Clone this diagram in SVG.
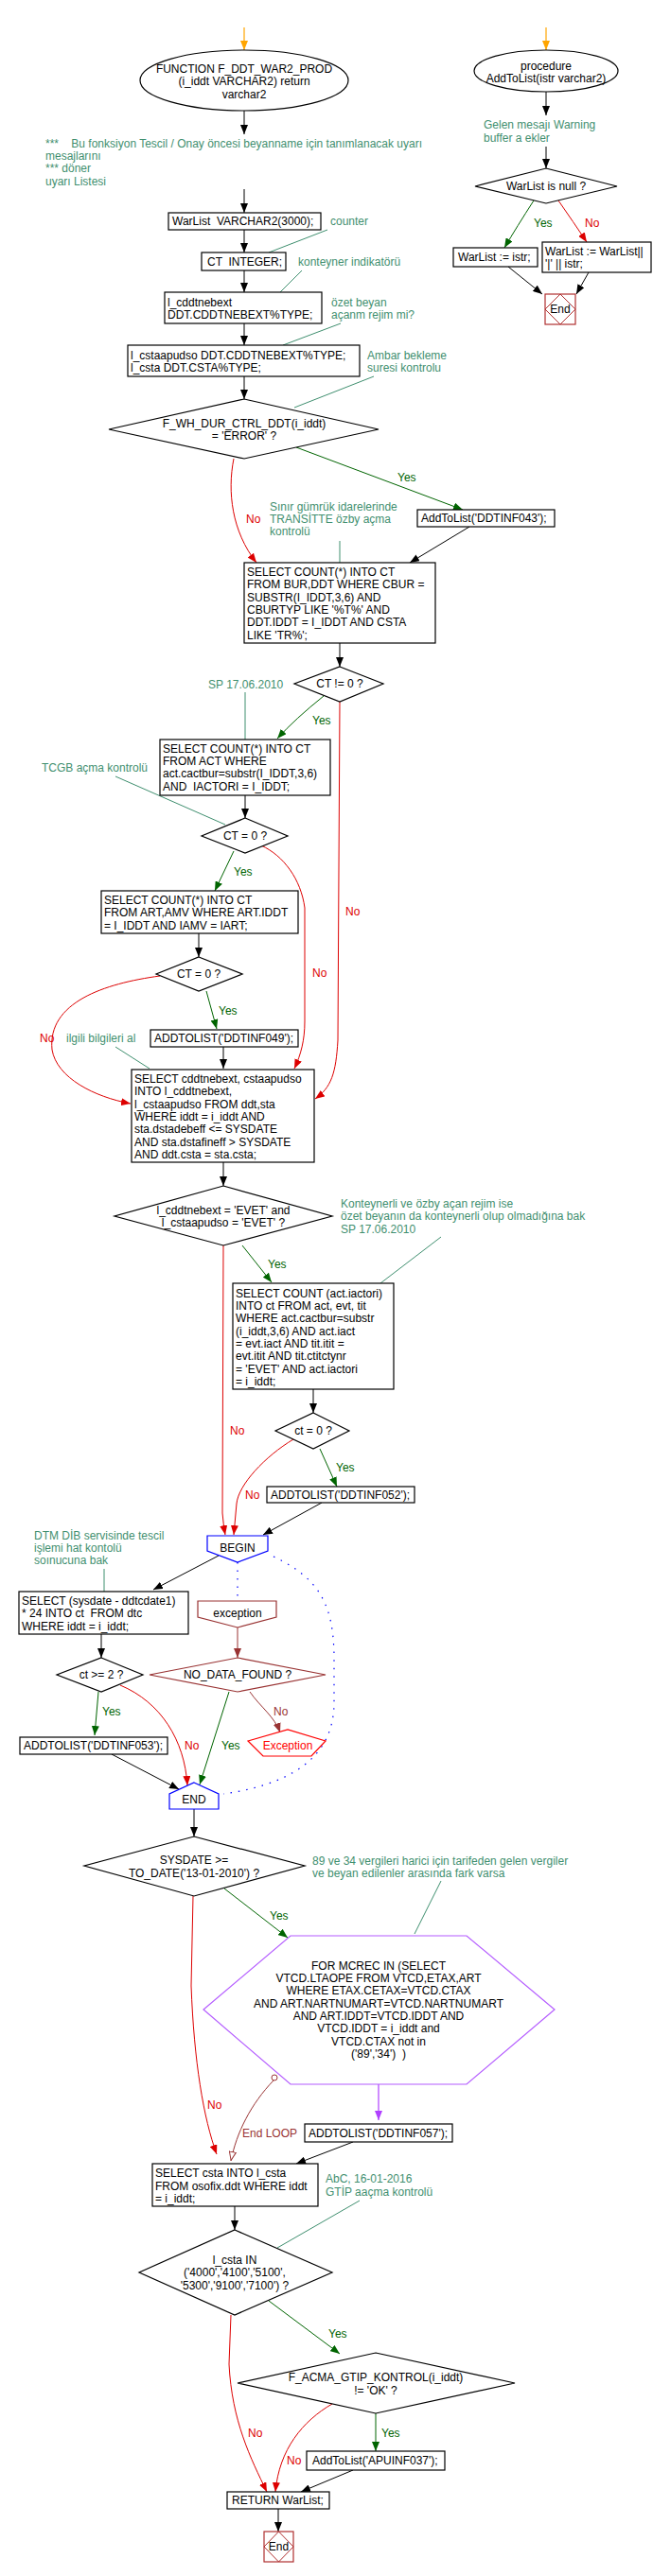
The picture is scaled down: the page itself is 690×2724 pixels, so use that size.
<svg xmlns="http://www.w3.org/2000/svg" width="690" height="2724" viewBox="0 0 690 2724">
<style>
text{font-family:"Liberation Sans",Arial,sans-serif;font-size:12px;fill:#000}
.m{text-anchor:middle}
.c{fill:#3f8f6f}
.y{fill:#006400}
.r{fill:#dd0000}
.dr{fill:#993333}
.box{fill:#fff;stroke:#000;stroke-width:1.2}
.cl{fill:none;stroke:#3f8f6f;stroke-width:1}
.k{fill:none;stroke:#000;stroke-width:1;marker-end:url(#ak)}
.g{fill:none;stroke:#006400;stroke-width:1;marker-end:url(#ag)}
.rd{fill:none;stroke:#dd0000;stroke-width:1;marker-end:url(#ar)}
.drl{fill:none;stroke:#993333;stroke-width:1;marker-end:url(#ad)}
.end{fill:#fff;stroke:#b03030;stroke-width:1.2}
</style>
<defs>
<marker id="ak" markerWidth="10" markerHeight="8" refX="10" refY="4" orient="auto" markerUnits="userSpaceOnUse"><path d="M0,0 L10,4 L0,8 z" fill="#000"/></marker>
<marker id="ag" markerWidth="10" markerHeight="8" refX="10" refY="4" orient="auto" markerUnits="userSpaceOnUse"><path d="M0,0 L10,4 L0,8 z" fill="#006400"/></marker>
<marker id="ar" markerWidth="10" markerHeight="8" refX="10" refY="4" orient="auto" markerUnits="userSpaceOnUse"><path d="M0,0 L10,4 L0,8 z" fill="#dd0000"/></marker>
<marker id="ad" markerWidth="10" markerHeight="8" refX="10" refY="4" orient="auto" markerUnits="userSpaceOnUse"><path d="M0,0 L10,4 L0,8 z" fill="#993333"/></marker>
<marker id="ao" markerWidth="10" markerHeight="8" refX="10" refY="4" orient="auto" markerUnits="userSpaceOnUse"><path d="M0,0 L10,4 L0,8 z" fill="#ffa500"/></marker>
<marker id="ap" markerWidth="10" markerHeight="8" refX="10" refY="4" orient="auto" markerUnits="userSpaceOnUse"><path d="M0,0 L10,4 L0,8 z" fill="#b040ff"/></marker>
<marker id="ah" markerWidth="10" markerHeight="8" refX="10" refY="4" orient="auto" markerUnits="userSpaceOnUse"><path d="M0.5,0.5 L9.5,4 L0.5,7.5 z" fill="#fff" stroke="#993333" stroke-width="1"/></marker>
</defs>
<rect width="690" height="2724" fill="#fff"/>

<g id="connectors">
<!-- right procedure -->
<path d="M577,29 L577,53" fill="none" stroke="#ffa500" stroke-width="1.2" marker-end="url(#ao)"/>
<path class="k" d="M577,97 L577,122"/>
<path class="k" d="M577,155 L577,178"/>
<path class="g" d="M564,212 Q546,240 533,262"/>
<path class="rd" d="M590,212 Q606,235 620,256"/>
<path class="k" d="M537,282 L573,311"/>
<path class="k" d="M622,288 L609,311"/>
<!-- main -->
<path d="M258,29 L258,53" fill="none" stroke="#ffa500" stroke-width="1.2" marker-end="url(#ao)"/>
<path class="k" d="M258,117 L258,142"/>
<path class="k" d="M258,200 L258,225"/>
<path class="k" d="M258,243 L258,267"/>
<path class="k" d="M258,286 L258,309"/>
<path class="k" d="M258,342 L258,365"/>
<path class="k" d="M258,398 L258,422"/>
<path class="g" d="M313,473 L489,539"/>
<path class="rd" d="M247,485 C240,520 245,562 271,595"/>
<path class="k" d="M496,557 L433,595"/>
<path class="k" d="M359,680 L359,705"/>
<path class="g" d="M342,736 Q312,760 293,781"/>
<path class="rd" d="M359,742 L357,1100 C355,1135 350,1150 333,1162"/>
<path class="k" d="M259,841 L259,865"/>
<path class="g" d="M247,900 L227,942"/>
<path class="rd" d="M276,894 C300,905 318,930 322,960 L322,1080 C322,1100 318,1115 311,1130"/>
<path class="k" d="M210,987 L210,1012"/>
<path class="g" d="M218,1048 L229,1088"/>
<path class="rd" d="M169,1032 C110,1040 50,1060 55,1110 C60,1140 100,1160 138,1167"/>
<path class="k" d="M236,1107 L236,1130"/>
<path class="k" d="M236,1229 L236,1254"/>
<path class="g" d="M256,1317 L287,1356"/>
<path class="rd" d="M236,1317 L235,1600 Q236,1612 238,1623"/>
<path class="k" d="M331,1469 L331,1494"/>
<path class="g" d="M338,1532 L356,1572"/>
<path class="rd" d="M310,1522 C280,1540 252,1570 250,1590 L247,1623"/>
<path class="k" d="M340,1589 L278,1623"/>
<path class="k" d="M231,1645 L162,1681"/>
<path d="M251,1652 L251,1693" fill="none" stroke="#0000ff" stroke-width="1.2" stroke-dasharray="1.5 7"/>
<path d="M289,1646 C340,1670 352,1700 353,1750 L353,1800 C353,1850 320,1885 236,1897" fill="none" stroke="#0000ff" stroke-width="1.2" stroke-dasharray="1.5 7"/>
<path class="k" d="M107,1728 L107,1753"/>
<path class="drl" d="M251,1721 L251,1753"/>
<path class="g" d="M242,1789 L211,1887"/>
<path class="drl" d="M264,1789 C275,1805 290,1815 296,1832"/>
<path class="g" d="M104,1789 L100,1835"/>
<path class="rd" d="M127,1782 C170,1800 195,1840 198,1888"/>
<path class="k" d="M118,1855 L189,1892"/>
<path class="k" d="M205,1913 L205,1942"/>
<path class="g" d="M237,1997 L304,2049"/>
<path class="rd" d="M204,2005 L202,2100 C205,2180 215,2240 229,2278"/>
<path d="M400,2204 L400,2242" fill="none" stroke="#b040ff" stroke-width="1.2" marker-end="url(#ap)"/>
<circle cx="290" cy="2197" r="3" fill="#fff" stroke="#993333" stroke-width="1"/>
<path d="M289,2200 C265,2225 250,2255 244,2285" fill="none" stroke="#993333" stroke-width="1" marker-end="url(#ah)"/>
<path class="k" d="M373,2265 L313,2288"/>
<path class="k" d="M248,2333 L248,2358"/>
<path class="g" d="M284,2433 L359,2489"/>
<path class="rd" d="M244,2448 L242,2500 C245,2560 265,2600 282,2635"/>
<path class="g" d="M397,2552 L397,2592"/>
<path class="rd" d="M351,2542 C320,2560 295,2590 291,2635"/>
<path class="k" d="M373,2612 L318,2635"/>
<path class="k" d="M294,2653 L294,2677"/>
<!-- comment leader lines -->
<path class="cl" d="M346,243 L284,267"/>
<path class="cl" d="M319,286 L296,309"/>
<path class="cl" d="M360,342 L299,365"/>
<path class="cl" d="M395,398 L311,431"/>
<path class="cl" d="M359,572 L359,595"/>
<path class="cl" d="M259,732 L259,782"/>
<path class="cl" d="M122,821 L238,872"/>
<path class="cl" d="M122,1107 L158,1130"/>
<path class="cl" d="M466,1308 L402,1357"/>
<path class="cl" d="M110,1659 L110,1683"/>
<path class="cl" d="M466,1989 L438,2045"/>
<path class="cl" d="M380,2327 L293,2377"/>
<!-- branch labels -->
<text class="y" x="564" y="240">Yes</text>
<text class="r" x="618" y="240">No</text>
<text class="y" x="420" y="509">Yes</text>
<text class="r" x="260" y="553">No</text>
<text class="y" x="330" y="766">Yes</text>
<text class="r" x="365" y="968">No</text>
<text class="y" x="247" y="926">Yes</text>
<text class="r" x="330" y="1033">No</text>
<text class="y" x="231" y="1073">Yes</text>
<text class="r" x="42" y="1102">No</text>
<text class="y" x="283" y="1341">Yes</text>
<text class="r" x="243" y="1517">No</text>
<text class="y" x="355" y="1556">Yes</text>
<text class="r" x="259" y="1585">No</text>
<text class="y" x="234" y="1850">Yes</text>
<text class="dr" x="289" y="1814">No</text>
<text class="y" x="108" y="1814">Yes</text>
<text class="r" x="195" y="1850">No</text>
<text class="y" x="285" y="2030">Yes</text>
<text class="r" x="219" y="2230">No</text>
<text class="dr" x="256" y="2260">End LOOP</text>
<text class="y" x="347" y="2472">Yes</text>
<text class="r" x="262" y="2577">No</text>
<text class="y" x="403" y="2577">Yes</text>
<text class="r" x="303" y="2606">No</text>
</g>

<!-- right procedure nodes -->
<g id="proc_start"><ellipse cx="577" cy="75" rx="76" ry="22" class="box"/><text class="m" x="577" y="74">procedure</text><text class="m" x="577" y="87">AddToList(istr varchar2)</text></g>
<g id="proc_note"><text class="c" x="511" y="136">Gelen mesajı Warning</text><text class="c" x="511" y="150">buffer a ekler</text></g>
<g id="proc_dec"><polygon points="577,178 652,197 577,215 502,197" class="box"/><text class="m" x="577" y="201">WarList is null ?</text></g>
<g id="proc_yes"><rect x="479" y="262" width="89" height="20" class="box"/><text x="484" y="276">WarList := istr;</text></g>
<g id="proc_no"><rect x="573" y="256" width="115" height="32" class="box"/><text x="576" y="270">WarList := WarList||</text><text x="576" y="283">'|' || istr;</text></g>
<g id="proc_end"><rect x="576" y="311" width="32" height="32" class="end"/><polygon points="592,311 608,327 592,343 576,327" fill="none" stroke="#b03030" stroke-width="1"/><text class="m" x="592" y="331">End</text></g>

<!-- main nodes -->
<g id="f_start"><ellipse cx="258" cy="85" rx="110" ry="32" class="box"/><text class="m" x="258" y="77">FUNCTION  F_DDT_WAR2_PROD</text><text class="m" x="258" y="90">(i_iddt  VARCHAR2) return</text><text class="m" x="258" y="104">varchar2</text></g>
<g id="f_note"><text class="c" x="48" y="156" xml:space="preserve">***    Bu fonksiyon Tescil / Onay öncesi beyanname için tanımlanacak uyarı</text><text class="c" x="48" y="169">mesajlarını</text><text class="c" x="48" y="182">*** döner</text><text class="c" x="48" y="196">uyarı Listesi</text></g>
<g id="n_warlist"><rect x="178" y="225" width="161" height="18" class="box"/><text x="182" y="238" xml:space="preserve">WarList  VARCHAR2(3000);</text><text class="c" x="349" y="238">counter</text></g>
<g id="n_ct"><rect x="213" y="267" width="89" height="19" class="box"/><text x="219" y="281" xml:space="preserve">CT  INTEGER;</text><text class="c" x="315" y="281">konteyner indikatörü</text></g>
<g id="n_cdd"><rect x="174" y="309" width="166" height="33" class="box"/><text x="177" y="324">l_cddtnebext</text><text x="177" y="337">DDT.CDDTNEBEXT%TYPE;</text><text class="c" x="350" y="324">özet beyan</text><text class="c" x="350" y="337">açanm rejim mi?</text></g>
<g id="n_csta"><rect x="135" y="365" width="245" height="33" class="box"/><text x="138" y="380">l_cstaapudso DDT.CDDTNEBEXT%TYPE;</text><text x="138" y="393">l_csta DDT.CSTA%TYPE;</text><text class="c" x="388" y="380">Ambar bekleme</text><text class="c" x="388" y="393">suresi kontrolu</text></g>
<g id="d_wh"><polygon points="258,422 400,454 258,485 115,454" class="box"/><text class="m" x="258" y="452">F_WH_DUR_CTRL_DDT(i_iddt)</text><text class="m" x="258" y="465">= 'ERROR' ?</text></g>
<g id="n_043"><rect x="441" y="539" width="145" height="18" class="box"/><text x="445" y="552">AddToList('DDTINF043');</text></g>
<g id="note_transit"><text class="c" x="285" y="540">Sınır gümrük idarelerinde</text><text class="c" x="285" y="553">TRANSİTTE özby açma</text><text class="c" x="285" y="566">kontrolü</text></g>
<g id="n_sel1"><rect x="258" y="595" width="202" height="85" class="box"/><text x="261" y="609">SELECT COUNT(*) INTO CT</text><text x="261" y="622">FROM BUR,DDT WHERE CBUR =</text><text x="261" y="636">SUBSTR(I_IDDT,3,6) AND</text><text x="261" y="649">CBURTYP LIKE '%T%' AND</text><text x="261" y="662">DDT.IDDT = I_IDDT AND CSTA</text><text x="261" y="676">LIKE 'TR%';</text></g>
<g id="d_ct1"><polygon points="359,705 405,723 359,742 311,723" class="box"/><text class="m" x="359" y="727">CT != 0 ?</text></g>
<g id="note_sp1"><text class="c" x="220" y="728">SP 17.06.2010</text></g>
<g id="n_sel2"><rect x="169" y="782" width="180" height="59" class="box"/><text x="172" y="796">SELECT COUNT(*) INTO CT</text><text x="172" y="809">FROM ACT WHERE</text><text x="172" y="822">act.cactbur=substr(I_IDDT,3,6)</text><text x="172" y="836" xml:space="preserve">AND  IACTORI = I_IDDT;</text></g>
<g id="note_tcgb"><text class="c" x="44" y="816">TCGB açma kontrolü</text></g>
<g id="d_ct2"><polygon points="259,865 304,884 259,902 213,884" class="box"/><text class="m" x="259" y="888">CT = 0 ?</text></g>
<g id="n_sel3"><rect x="107" y="942" width="208" height="45" class="box"/><text x="110" y="956">SELECT COUNT(*) INTO CT</text><text x="110" y="969">FROM ART,AMV WHERE ART.IDDT</text><text x="110" y="983">= I_IDDT AND IAMV = IART;</text></g>
<g id="d_ct3"><polygon points="210,1012 256,1030 210,1048 165,1030" class="box"/><text class="m" x="210" y="1034">CT = 0 ?</text></g>
<g id="n_049"><rect x="159" y="1089" width="156" height="18" class="box"/><text x="163" y="1102">ADDTOLIST('DDTINF049');</text></g>
<g id="note_ilgili"><text class="c" x="70" y="1102">ilgili bilgileri al</text></g>
<g id="n_sel4"><rect x="139" y="1131" width="193" height="98" class="box"/><text x="142" y="1145">SELECT cddtnebext, cstaapudso</text><text x="142" y="1158">INTO l_cddtnebext,</text><text x="142" y="1172">l_cstaapudso FROM ddt,sta</text><text x="142" y="1185">WHERE iddt = i_iddt AND</text><text x="142" y="1198">sta.dstadebeff &lt;= SYSDATE</text><text x="142" y="1212">AND sta.dstafineff &gt; SYSDATE</text><text x="142" y="1225">AND ddt.csta = sta.csta;</text></g>
<g id="d_evet"><polygon points="236,1254 351,1286 236,1317 121,1286" class="box"/><text class="m" x="236" y="1284">l_cddtnebext = 'EVET' and</text><text class="m" x="236" y="1297">l_cstaapudso = 'EVET' ?</text></g>
<g id="note_kont"><text class="c" x="360" y="1277">Konteynerli ve özby açan rejim ise</text><text class="c" x="360" y="1290">özet beyanın da konteynerli olup olmadığına bak</text><text class="c" x="360" y="1304">SP 17.06.2010</text></g>
<g id="n_sel5"><rect x="246" y="1357" width="170" height="112" class="box"/><text x="249" y="1372">SELECT COUNT (act.iactori)</text><text x="249" y="1385">INTO ct FROM act, evt, tit</text><text x="249" y="1398">WHERE act.cactbur=substr</text><text x="249" y="1412">(i_iddt,3,6) AND act.iact</text><text x="249" y="1425">= evt.iact AND tit.itit =</text><text x="249" y="1438">evt.itit AND tit.ctitctynr</text><text x="249" y="1452">= 'EVET' AND act.iactori</text><text x="249" y="1465">= i_iddt;</text></g>
<g id="d_ct4"><polygon points="331,1494 369,1513 331,1532 291,1513" class="box"/><text class="m" x="331" y="1517">ct = 0 ?</text></g>
<g id="n_052"><rect x="282" y="1572" width="156" height="17" class="box"/><text x="286" y="1585">ADDTOLIST('DDTINF052');</text></g>
<g id="n_begin"><polygon points="219,1624 283,1624 283,1640 251,1652 219,1640" fill="#fff" stroke="#0000ff" stroke-width="1.2"/><text class="m" x="251" y="1641">BEGIN</text></g>
<g id="note_dtm"><text class="c" x="36" y="1628">DTM DİB servisinde tescil</text><text class="c" x="36" y="1641">işlemi hat kontolü</text><text class="c" x="36" y="1654">soınucuna bak</text></g>
<g id="n_sel6"><rect x="20" y="1683" width="179" height="45" class="box"/><text x="23" y="1697">SELECT (sysdate - ddtcdate1)</text><text x="23" y="1710" xml:space="preserve">* 24 INTO ct  FROM dtc</text><text x="23" y="1724">WHERE iddt = i_iddt;</text></g>
<g id="n_exception"><polygon points="209,1693 292,1693 292,1710 251,1721 209,1710" fill="#fff" stroke="#993333" stroke-width="1.2"/><text class="m" x="251" y="1710">exception</text></g>
<g id="d_ct5"><polygon points="107,1753 151,1771 107,1789 60,1771" class="box"/><text class="m" x="107" y="1775">ct &gt;= 2 ?</text></g>
<g id="d_ndf"><polygon points="251,1753 344,1771 251,1789 158,1771" fill="#fff" stroke="#993333" stroke-width="1.2"/><text class="m" x="251" y="1775">NO_DATA_FOUND ?</text></g>
<g id="n_053"><rect x="21" y="1837" width="156" height="18" class="box"/><text x="25" y="1850">ADDTOLIST('DDTINF053');</text></g>
<g id="n_exc_term"><polygon points="262,1841 304,1829 344,1841 329,1857 278,1857" fill="#fff" stroke="#ff0000" stroke-width="1.2"/><text class="m" x="304" y="1850" fill="#ff0000" style="fill:#ff0000">Exception</text></g>
<g id="n_end_blk"><polygon points="205,1885 231,1897 231,1913 179,1913 179,1897" fill="#fff" stroke="#0000ff" stroke-width="1.2"/><text class="m" x="205" y="1907">END</text></g>
<g id="d_sysdate"><polygon points="205,1942 322,1973 205,2005 89,1973" class="box"/><text class="m" x="205" y="1971">SYSDATE &gt;=</text><text class="m" x="205" y="1985">TO_DATE('13-01-2010') ?</text></g>
<g id="note_89"><text class="c" x="330" y="1972">89 ve 34 vergileri harici için tarifeden gelen vergiler</text><text class="c" x="330" y="1985">ve beyan edilenler arasında fark varsa</text></g>
<g id="n_loop"><polygon points="307,2047 493,2047 586,2125 493,2204 307,2204 215,2125" fill="#fff" stroke="#b45cff" stroke-width="1.2"/><text class="m" x="400" y="2083">FOR MCREC IN (SELECT</text><text class="m" x="400" y="2096">VTCD.LTAOPE FROM VTCD,ETAX,ART</text><text class="m" x="400" y="2109">WHERE ETAX.CETAX=VTCD.CTAX</text><text class="m" x="400" y="2123">AND ART.NARTNUMART=VTCD.NARTNUMART</text><text class="m" x="400" y="2136">AND ART.IDDT=VTCD.IDDT AND</text><text class="m" x="400" y="2149">VTCD.IDDT = i_iddt and</text><text class="m" x="400" y="2163">VTCD.CTAX not in</text><text class="m" x="400" y="2176" xml:space="preserve">('89','34')  )</text></g>
<g id="n_057"><rect x="322" y="2246" width="156" height="19" class="box"/><text x="326" y="2260">ADDTOLIST('DDTINF057');</text></g>
<g id="n_sel7"><rect x="161" y="2288" width="175" height="45" class="box"/><text x="164" y="2302">SELECT csta INTO l_csta</text><text x="164" y="2316">FROM osofix.ddt WHERE iddt</text><text x="164" y="2329">= i_iddt;</text></g>
<g id="note_abc"><text class="c" x="344" y="2308">AbC, 16-01-2016</text><text class="c" x="344" y="2322">GTİP aaçma kontrolü</text></g>
<g id="d_csta"><polygon points="248,2358 351,2403 248,2448 147,2403" class="box"/><text class="m" x="248" y="2394">l_csta IN</text><text class="m" x="248" y="2407">('4000','4100','5100',</text><text class="m" x="248" y="2421">'5300','9100','7100') ?</text></g>
<g id="d_gtip"><polygon points="397,2488 544,2520 397,2552 251,2520" class="box"/><text class="m" x="397" y="2518">F_ACMA_GTIP_KONTROL(i_iddt)</text><text class="m" x="397" y="2532">!= 'OK' ?</text></g>
<g id="n_apu"><rect x="324" y="2592" width="146" height="20" class="box"/><text x="330" y="2606">AddToList('APUINF037');</text></g>
<g id="n_return"><rect x="240" y="2635" width="108" height="18" class="box"/><text x="245" y="2648">RETURN WarList;</text></g>
<g id="f_end"><rect x="279" y="2677" width="31" height="32" class="end"/><polygon points="294.5,2677 310,2693 294.5,2709 279,2693" fill="none" stroke="#b03030" stroke-width="1"/><text class="m" x="294.5" y="2697">End</text></g>
</svg>
